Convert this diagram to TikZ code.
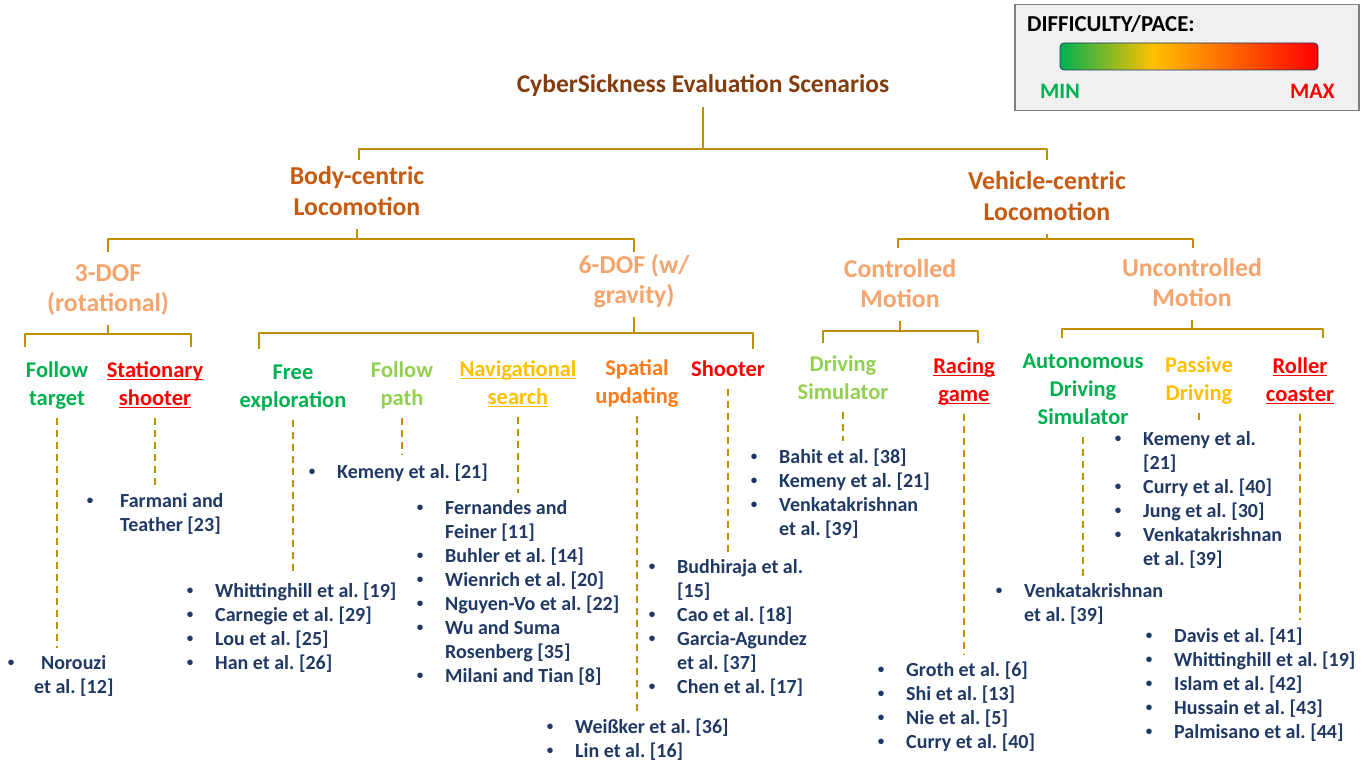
\documentclass[tikz,border=0pt]{standalone}
\usepackage{fontspec}
\setmainfont{Carlito}
\usepackage{tikz}
\usetikzlibrary{calc}
\definecolor{titlebrown}{HTML}{843C0C}
\definecolor{lvlone}{HTML}{C55A11}
\definecolor{lvltwo}{HTML}{F4A46C}
\definecolor{easygreen}{HTML}{00B050}
\definecolor{lightgreen}{HTML}{92D050}
\definecolor{gold}{HTML}{FFC000}
\definecolor{spatorange}{HTML}{FF7A1A}
\definecolor{hardred}{HTML}{FF0000}
\definecolor{refblue}{HTML}{203864}
\definecolor{linkgold}{HTML}{BF9000}
\definecolor{boxgray}{HTML}{7F7F7F}
\definecolor{boxfill}{HTML}{F0F0F0}
\pgfdeclarehorizontalshading{diffpace}{100bp}{color(0bp)=(easygreen); color(25bp)=(easygreen); color(43bp)=(gold); color(75bp)=(hardred); color(100bp)=(hardred)}
\newsavebox{\ulbox}
\newcommand{\ulab}[1]{\sbox\ulbox{#1}\rlap{\rule[-3pt]{\wd\ulbox}{1.4pt}}\usebox\ulbox}
\newcommand{\bibit}[1]{\makebox[10pt]{\raisebox{2.5pt}{\fontsize{13}{13}\selectfont\textbullet}}\hspace{20pt}#1}
\newcommand{\bibnx}[1]{\hspace*{30pt}#1}
\frenchspacing
\tikzset{
  link/.style={line width=2pt, color=linkgold},
  dashlink/.style={line width=2pt, color=linkgold, dash pattern=on 7pt off 5pt, shorten <=4pt, shorten >=7pt},
  tnode/.style={align=center, anchor=base, inner sep=0pt, execute at begin node=\strut, execute at end node=\strut},
  toptitle/.style={tnode, font=\fontsize{25.5}{32}\selectfont\bfseries, text=titlebrown},
  levelone/.style={tnode, font=\fontsize{25.8}{31}\selectfont\bfseries, text=lvlone},
  leveltwo/.style={tnode, font=\fontsize{25.8}{30}\selectfont\bfseries, text=lvltwo},
  leaf/.style={tnode, font=\fontsize{22.5}{28}\selectfont\bfseries},
  reflist/.style={align=left, anchor=base west, inner sep=0pt, font=\fontsize{20}{24}\selectfont\bfseries, text=refblue, execute at begin node=\strut}
}

\begin{document}
\begin{tikzpicture}[line join=round, x=1pt, y=-1pt]
\useasboundingbox (0,0) rectangle (1369,762);

% legend
\node[draw=boxgray, fill=boxfill, line width=1.5pt, minimum width=344pt, minimum height=106pt, anchor=north west, inner sep=0pt] (legend) at (1014,4) {};
\node[anchor=base west, inner sep=0pt, font=\fontsize{22.8}{26}\selectfont\bfseries] (diffpace) at (1027,32) {DIFFICULTY/PACE:};
\node[draw=refblue, line width=0.8pt, shading=diffpace, rounded corners=4pt, minimum width=258pt, minimum height=27pt, inner sep=0pt] (bar) at (1189,56.5) {};
\node[anchor=base west, inner sep=0pt, font=\fontsize{22}{26}\selectfont\bfseries, text=easygreen] (min) at (1040,99) {MIN};
\node[anchor=base east, inner sep=0pt, font=\fontsize{22}{26}\selectfont\bfseries, text=hardred] (max) at (1335,99) {MAX};

% tree (base = last line)
\node[toptitle] (title) at (703,93) {CyberSickness Evaluation Scenarios};
\node[levelone] (body) at (357,216) {Body-centric\\Locomotion};
\node[levelone] (vehicle) at (1047,221) {Vehicle-centric\\Locomotion};
\node[leveltwo] (threedof) at (108,312) {3-DOF\\(rotational)};
\node[leveltwo] (sixdof) at (634,304) {6-DOF (w/\\gravity)};
\node[leveltwo] (ctrl) at (900,308) {Controlled\\Motion};
\node[leveltwo] (unctrl) at (1192,307) {Uncontrolled\\Motion};

\node[leaf, text=easygreen] (ftarget) at (57,405) {Follow\\target};
\node[leaf, text=hardred] (sshooter) at (155,405) {\ulab{Stationary}\\\ulab{shooter}};
\node[leaf, text=easygreen] (freeexp) at (293,407) {Free\\exploration};
\node[leaf, text=lightgreen] (fpath) at (402,405) {Follow\\path};
\node[leaf, text=gold] (navsearch) at (518,404) {\ulab{Navigational}\\\ulab{search}};
\node[leaf, text=spatorange] (spatial) at (637,403) {Spatial\\updating};
\node[leaf, text=hardred] (shooter) at (728,376) {Shooter};
\node[leaf, text=lightgreen] (drivsim) at (843,399) {Driving\\Simulator};
\node[leaf, text=hardred] (racing) at (964,401) {\ulab{Racing}\\\ulab{game}};
\node[leaf, text=easygreen] (autodrive) at (1083,424) {Autonomous\\Driving\\Simulator};
\node[leaf, text=gold] (passive) at (1199,400) {Passive\\Driving};
\node[leaf, text=hardred] (roller) at (1300,401) {\ulab{Roller}\\\ulab{coaster}};

\coordinate (b0) at (703,149);  \coordinate (t0a) at (359,160); \coordinate (t0b) at (1047,160);
\coordinate (b1) at (357,239);  \coordinate (t1a) at (108,252); \coordinate (t1b) at (634,252);
\coordinate (b2) at (1047,239); \coordinate (t2a) at (898,248); \coordinate (t2b) at (1193,248);
\coordinate (b3) at (108,334);  \coordinate (t3a) at (25,347);  \coordinate (t3b) at (191,347);
\coordinate (b4) at (634,333);  \coordinate (t4a) at (259,349); \coordinate (t4b) at (753,349);
\coordinate (b5) at (900,331);  \coordinate (t5a) at (823,343); \coordinate (t5b) at (978,343);
\coordinate (b6) at (1192,329); \coordinate (t6a) at (1062,338); \coordinate (t6b) at (1323,338);

\foreach \p/\b in {title/b0, body/b1, vehicle/b2, threedof/b3, sixdof/b4, ctrl/b5, unctrl/b6}
  \draw[link, shorten <=4pt] (\p.south) -- (\b);
\foreach \b/\l/\r in {b0/t0a/t0b, b1/t1a/t1b, b2/t2a/t2b, b3/t3a/t3b, b4/t4a/t4b, b5/t5a/t5b, b6/t6a/t6b}
  \draw[link] (\l) |- (\b) -| (\r);

% references (base = last line)
\node[reflist] (norouzi) at (6,693) {\bibit{\hspace{5pt}Norouzi}\\\hspace*{28pt}et al. [12]};
\node[reflist] (farmani) at (85,531) {\bibit{\hspace{5pt}Farmani and}\\\bibnx{\hspace{5pt}Teather [23]}};
\node[reflist] (kemenyfp) at (307,478) {\bibit{Kemeny et al. [21]}};
\node[reflist] (freelist) at (185,669) {\bibit{Whittinghill et al. [19]}\\\bibit{Carnegie et al. [29]}\\\bibit{Lou et al. [25]}\\\bibit{Han et al. [26]}};
\node[reflist] (navlist) at (415,682) {\bibit{Fernandes and}\\\bibnx{Feiner [11]}\\\bibit{Buhler et al. [14]}\\\bibit{Wienrich et al. [20]}\\\bibit{Nguyen-Vo et al. [22]}\\\bibit{Wu and Suma}\\\bibnx{Rosenberg [35]}\\\bibit{Milani and Tian [8]}};
\node[reflist] (spatlist) at (545,757) {\bibit{Weißker et al. [36]}\\\bibit{Lin et al. [16]}};
\node[reflist] (shootlist) at (647,693) {\bibit{Budhiraja et al.}\\\bibnx{[15]}\\\bibit{Cao et al. [18]}\\\bibit{Garcia-Agundez}\\\bibnx{et al. [37]}\\\bibit{Chen et al. [17]}};
\node[reflist] (drivlist) at (749,535) {\bibit{Bahit et al. [38]}\\\bibit{Kemeny et al. [21]}\\\bibit{Venkatakrishnan}\\\bibnx{et al. [39]}};
\node[reflist] (racelist) at (876,748) {\bibit{Groth et al. [6]}\\\bibit{Shi et al. [13]}\\\bibit{Nie et al. [5]}\\\bibit{Curry et al. [40]}};
\node[reflist] (autolist) at (994,621) {\bibit{Venkatakrishnan}\\\bibnx{et al. [39]}};
\node[reflist] (passlist) at (1113,565) {\bibit{Kemeny et al.}\\\bibnx{[21]}\\\bibit{Curry et al. [40]}\\\bibit{Jung et al. [30]}\\\bibit{Venkatakrishnan}\\\bibnx{et al. [39]}};
\node[reflist] (rollerlist) at (1144,738) {\bibit{Davis et al. [41]}\\\bibit{Whittinghill et al. [19]}\\\bibit{Islam et al. [42]}\\\bibit{Hussain et al. [43]}\\\bibit{Palmisano et al. [44]}};

\foreach \c/\l in {ftarget/norouzi, sshooter/farmani, freeexp/freelist, fpath/kemenyfp, navsearch/navlist, spatial/spatlist, shooter/shootlist, drivsim/drivlist, racing/racelist, autodrive/autolist, passive/passlist, roller/rollerlist}
  \draw[dashlink] (\c.south) -- (\c.south |- \l.north);
\end{tikzpicture}
\end{document}
